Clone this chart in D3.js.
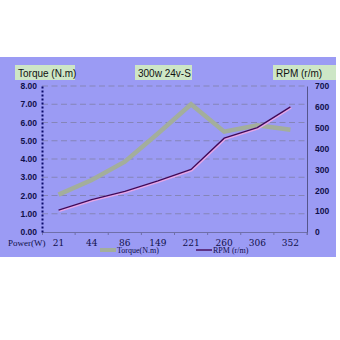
<!DOCTYPE html>
<html>
  <head>
    <meta charset="utf-8" />
    <title>300w 24v-S</title>
    <script src="https://d3js.org/d3.v7.min.js"></script>
    <style>
      body { margin: 0; background: #ffffff; }
    </style>
  </head>
  <body>
    <svg id="chart" width="340" height="340"></svg>
  </body>
  <script>
    // data
    var powers = ["21", "44", "86", "149", "221", "260", "306", "352"];
    var torque = [2.05, 2.85, 3.85, 5.4, 7.0, 5.5, 5.85, 5.6];
    var rpm = [105, 155, 195, 245, 300, 450, 500, 600];
    var torqueTicks = [0, 1, 2, 3, 4, 5, 6, 7, 8];
    var rpmTicks = [0, 100, 200, 300, 400, 500, 600, 700];

    var svg = d3.select("#chart");
    // plot edges (note: "top" clashes with window.top)
    var plotLeft = 42, plotRight = 307, plotTop = 86, plotBottom = 232;

    // blue panel
    svg.append("rect")
      .attr("x", 0).attr("y", 57)
      .attr("width", 336).attr("height", 200)
      .attr("fill", "#9b9bf4");

    var x = d3.scaleBand().domain(powers).range([plotLeft, plotRight]);
    var yT = d3.scaleLinear().domain([0, 8]).range([plotBottom, plotTop]);
    var yR = d3.scaleLinear().domain([0, 700]).range([plotBottom, plotTop]);

    // dashed grid
    svg.selectAll(".grid")
      .data(torqueTicks.slice(1))
      .enter().append("line")
      .attr("class", "grid")
      .attr("x1", plotLeft).attr("x2", plotRight)
      .attr("y1", function(d){ return yT(d); })
      .attr("y2", function(d){ return yT(d); })
      .attr("stroke", "#8585b8")
      .attr("stroke-width", 1)
      .attr("stroke-dasharray", "6,3.5");

    // bottom axis with tick marks between categories
    var xAxis = svg.append("g")
      .attr("transform", "translate(0," + plotBottom + ")")
      .call(d3.axisBottom(x).tickSize(3).tickFormat(""));
    xAxis.select(".domain").attr("stroke", "#6f6fa8");
    xAxis.selectAll(".tick line")
      .attr("stroke", "#6f6fa8")
      .attr("transform", "translate(" + (x.bandwidth() / 2) + ",0)");

    // left axis (dotted)
    var leftAxis = svg.append("g")
      .attr("transform", "translate(" + plotLeft + ",0)")
      .call(d3.axisLeft(yT).tickValues(torqueTicks).tickSize(0).tickPadding(5)
        .tickFormat(d3.format(".2f")));
    leftAxis.select(".domain")
      .attr("stroke", "#0a0a6a").attr("stroke-width", 2)
      .attr("stroke-dasharray", "2,2");
    leftAxis.selectAll("text")
      .attr("font-family", "Arial, 'Liberation Sans', sans-serif")
      .attr("font-size", 8.5).attr("font-weight", "bold")
      .attr("fill", "#10104a");

    // right axis
    var rightAxis = svg.append("g")
      .attr("transform", "translate(" + plotRight + ",0)")
      .call(d3.axisRight(yR).tickValues(rpmTicks).tickSize(0).tickPadding(8));
    rightAxis.select(".domain").attr("stroke", "#55558a");
    rightAxis.selectAll("text")
      .attr("font-family", "Arial, 'Liberation Sans', sans-serif")
      .attr("font-size", 8.5).attr("font-weight", "bold")
      .attr("fill", "#10104a");

    // category labels
    svg.selectAll(".cat")
      .data(powers)
      .enter().append("text")
      .attr("class", "cat")
      .attr("x", function(d){ return x(d) + x.bandwidth() / 2; })
      .attr("y", 245.5)
      .attr("text-anchor", "middle")
      .attr("font-family", "'DejaVu Serif', serif")
      .attr("font-size", 9)
      .attr("fill", "#10104a")
      .text(function(d){ return d; });

    svg.append("text")
      .attr("x", 8).attr("y", 245.5)
      .attr("font-family", "'Liberation Serif', serif")
      .attr("font-size", 9)
      .attr("fill", "#10104a")
      .text("Power(W)");

    // torque line
    var torqueLine = d3.line()
      .x(function(d, i){ return x(powers[i]) + x.bandwidth() / 2; })
      .y(function(d){ return yT(d); });
    svg.append("path")
      .datum(torque)
      .attr("d", torqueLine)
      .attr("fill", "none")
      .attr("stroke", "#a3ae9c")
      .attr("stroke-width", 4.5);

    // rpm line with pink halo
    var rpmLine = d3.line()
      .x(function(d, i){ return x(powers[i]) + x.bandwidth() / 2; })
      .y(function(d){ return yR(d); });
    svg.append("path")
      .datum(rpm)
      .attr("d", rpmLine)
      .attr("fill", "none")
      .attr("stroke", "#e7a6e6")
      .attr("stroke-width", 2.6)
      .attr("transform", "translate(0.6,0.6)");
    svg.append("path")
      .datum(rpm)
      .attr("d", rpmLine)
      .attr("fill", "none")
      .attr("stroke", "#3b0a5a")
      .attr("stroke-width", 1.4);

    // legend
    var legend = [
      {label: "Torque(N.m)", color: "#a3ae9c", w: 4, x: 100},
      {label: "RPM (r/m)", color: "#4a1060", w: 1.5, x: 196}
    ];
    legend.forEach(function(l){
      svg.append("line")
        .attr("x1", l.x).attr("x2", l.x + 16)
        .attr("y1", 250).attr("y2", 250)
        .attr("stroke", l.color).attr("stroke-width", l.w);
      svg.append("text")
        .attr("x", l.x + 17).attr("y", 253)
        .attr("font-family", "'Liberation Serif', serif")
        .attr("font-size", 8)
        .attr("fill", "#10104a")
        .text(l.label);
    });

    // label boxes
    var boxes = [
      {text: "Torque (N.m)", x: 15, w: 60},
      {text: "300w 24v-S", x: 135, w: 57},
      {text: "RPM (r/m)", x: 273, w: 63}
    ];
    boxes.forEach(function(b){
      svg.append("rect")
        .attr("x", b.x).attr("y", 65)
        .attr("width", b.w).attr("height", 15)
        .attr("fill", "#cde6c6");
      svg.append("text")
        .attr("x", b.x + 3).attr("y", 76.5)
        .attr("font-family", "Arial, 'Liberation Sans', sans-serif")
        .attr("font-size", 10)
        .attr("fill", "#111111")
        .text(b.text);
    });
  </script>
</html>
